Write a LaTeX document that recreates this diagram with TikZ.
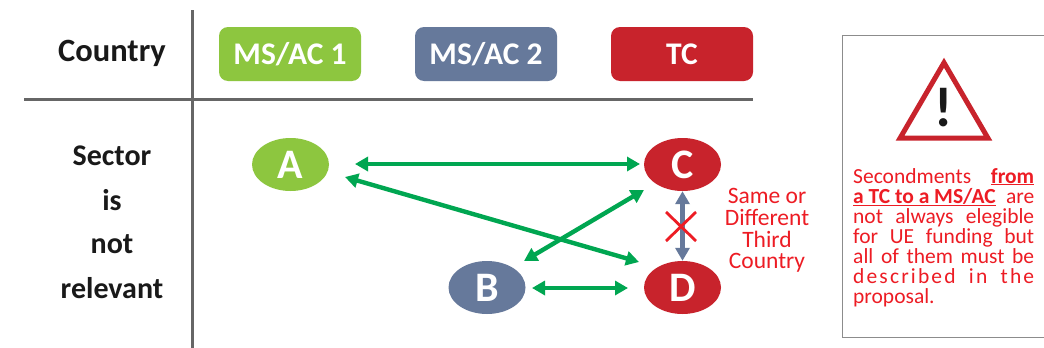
\documentclass[tikz,border=0pt]{standalone}
\usepackage{fontspec}
\setmainfont{Carlito}
\usetikzlibrary{arrows.meta,shapes.geometric}
\definecolor{msone}{HTML}{8DC63F}
\definecolor{mstwo}{HTML}{66799B}
\definecolor{tcred}{HTML}{C8232C}
\definecolor{arrowgreen}{HTML}{00A651}
\definecolor{txtred}{HTML}{ED1C24}
\definecolor{rulegray}{HTML}{666666}
\definecolor{boxgray}{HTML}{8C8C8C}
\tikzset{
  x=1pt,y=-1pt,
  hdr/.style={rounded corners=9pt,minimum width=142pt,minimum height=54pt,inner sep=0pt,text=white,font=\bfseries\fontsize{31.5}{31.5}\selectfont},
  bubble/.style={ellipse,minimum width=77pt,minimum height=53pt,inner sep=0pt,text=white,font=\bfseries\fontsize{42}{42}\selectfont},
  lbl/.style={font=\bfseries\fontsize{30}{30}\selectfont,text=black!90},
  grn/.style={draw=arrowgreen,line width=4.4pt,{Triangle[length=13pt,width=14pt]}-{Triangle[length=13pt,width=14pt]}},
  gry/.style={draw=mstwo,line width=5pt,{Triangle[length=13pt,width=14pt]}-{Triangle[length=13pt,width=14pt]}},
  divider/.style={draw=rulegray,line width=3pt},
}
\begin{document}
\begin{tikzpicture}
\useasboundingbox (0,0) rectangle (1044,348);
\clip (0,0) rectangle (1044,348);
\fill[white] (0,0) rectangle (1044,348);
% dividers
\coordinate (vt) at (192,10); \coordinate (vb) at (192,348);
\coordinate (hl) at (24,99); \coordinate (hr) at (753,99);
\draw[divider] (vt) -- (vb);
\draw[divider] (hl) -- (hr);
% header
\node[lbl,font=\bfseries\fontsize{32.5}{32.5}\selectfont] (country) at (112,53) {Country};
\node[hdr,fill=msone] (h1) at (290,54) {MS/AC 1};
\node[hdr,fill=mstwo] (h2) at (486,54) {MS/AC 2};
\node[hdr,fill=tcred] (h3) at (682,54) {TC};
% left label
\node[lbl] (s1) at (112,156) {Sector};
\node[lbl] (s2) at (112,200) {is};
\node[lbl] (s3) at (112,244) {not};
\node[lbl] (s4) at (112,288) {relevant};
% bubbles
\node[bubble,fill=msone] (A) at (290.5,164.5) {A};
\node[bubble,fill=mstwo] (B) at (487,287.5) {B};
\node[bubble,fill=tcred] (C) at (682.5,164.5) {C};
\node[bubble,fill=tcred] (D) at (682.5,287.5) {D};
% connector ends
\coordinate (ac1) at (355,164); \coordinate (ac2) at (640,164);
\coordinate (ad1) at (345,177); \coordinate (ad2) at (639,262);
\coordinate (bc1) at (524,261); \coordinate (bc2) at (644,190);
\coordinate (bd1) at (532,288); \coordinate (bd2) at (628,288);
\draw[grn] (ac1) -- (ac2);
\draw[grn] (ad1) -- (ad2);
\draw[grn] (bc1) -- (bc2);
\draw[grn] (bd1) -- (bd2);
\draw[gry] (C) -- (D);
% cross
\coordinate (x1) at (666,212); \coordinate (x2) at (696,241);
\coordinate (x3) at (696,212); \coordinate (x4) at (666,241);
\draw[txtred,line width=2.8pt] (x1) -- (x2);
\draw[txtred,line width=2.8pt] (x3) -- (x4);
\node[text=txtred,align=center,font=\fontsize{23.5}{21.7}\selectfont] (same) at (767,230.5) {Same or\\Different\\Third\\Country};
% warning panel
\draw[boxgray,line width=1pt] (1050,35) -- (842.5,35) -- (842.5,337) -- (1050,337);
\draw[tcred,line width=5pt,miter limit=10] (944,62.7) -- (988,138.2) -- (900,138.2) -- cycle;
\node[inner sep=0pt,font=\bfseries\fontsize{56}{56}\selectfont,text=black!90] (bang) at (944,108) {!};
\node[inner sep=0pt,anchor=north west,text=txtred,font=\fontsize{21.5}{20}\selectfont] (note) at (853,168) {\parbox[t]{181pt}{\baselineskip=20pt
\hbox to 181pt{Secondments\hfill\underline{\textbf{from}}}
\hbox to 181pt{\underline{\textbf{a TC to a MS/AC}}\hfill are}
\hbox to 181pt{not\hfill always\hfill elegible}
\hbox to 181pt{for\hfill UE\hfill funding\hfill but}
\hbox to 181pt{all\hfill of\hfill them\hfill must\hfill be}
\hbox to 181pt{\addfontfeature{LetterSpace=10}described\hfill in\hfill the}
\hbox to 181pt{proposal.\hfill}}};
\end{tikzpicture}
\end{document}
